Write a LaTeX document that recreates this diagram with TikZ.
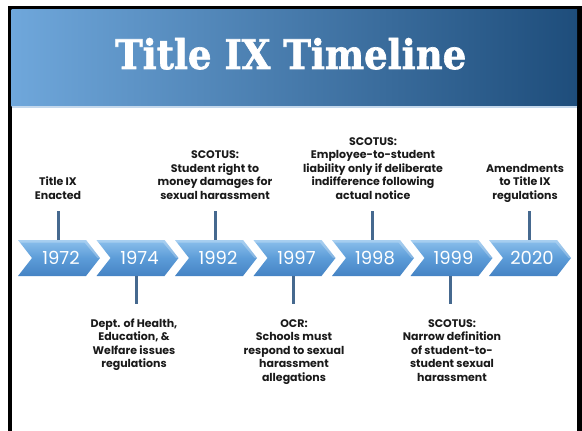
\documentclass[tikz,border=0pt]{standalone}
\usepackage{fontspec}
\setmainfont{Poppins}
\newfontfamily\titlefont{DejaVu Serif}[BoldFeatures={FakeBold=1.6}]
\definecolor{bannerL}{HTML}{6FA7DB}
\definecolor{bannerR}{HTML}{1E4D7B}
\definecolor{bannerLine}{HTML}{C4D8EC}
\definecolor{chevTop}{HTML}{8CC0EC}
\definecolor{chevMid}{HTML}{5C9CD8}
\definecolor{chevBot}{HTML}{4583C4}
\definecolor{stem}{HTML}{46698F}
\definecolor{labeltext}{HTML}{1A1A1A}
\tikzset{
  chev/.style={top color=chevTop, bottom color=chevBot, middle color=chevMid},
  chevhi/.style={fill=white, fill opacity=0.25},
  yearlbl/.style={text=white, inner sep=0, font=\fontsize{18}{20}\selectfont},
  stemline/.style={draw=stem, line width=3pt},
  evlbl/.style={align=center, inner sep=0, text=labeltext, font=\bfseries\fontsize{11}{13.5}\selectfont},
}
\begin{document}
\begin{tikzpicture}[x=1pt,y=-1pt]
\useasboundingbox (0,0) rectangle (582,431);
\fill[white] (0,0) rectangle (582,431);
% frame
\fill[black] (8,6) rectangle (11.5,431);
\fill[black] (8,6) rectangle (582,9.5);
\fill[black] (577,6) rectangle (582,431);
% banner
\shade[left color=bannerL, right color=bannerR] (11.5,9.5) rectangle (577,106);
\fill[bannerLine] (11.5,106) rectangle (577,108);
\node[anchor=base west, inner sep=0, text=white] (title) at (115,69)
  {\resizebox{351pt}{31pt}{\titlefont\bfseries Title IX Timeline}};
% chevrons
\foreach \i/\yr in {0/1972,1/1974,2/1992,3/1997,4/1998,5/1999,6/2020}{
  \pgfmathsetmacro{\xo}{18+78.5*\i}
  \path[chev] (\xo,240) -- ++(68,0) -- ++(14,18) -- ++(-14,18) -- ++(-68,0) -- ++(14,-18) -- cycle;
  \path[chevhi] (\xo,240) -- ++(68,0) -- ++(14,18) -- ++(-2.5,0) -- ++(-13,-15.5) -- ++(-64.5,0) -- cycle;
  \node[yearlbl] (y\yr) at (\xo+43,258) {\yr};
  \coordinate (t\yr) at (\xo+40,240);
  \coordinate (b\yr) at (\xo+40,276);
}
% stems above
\foreach \yr in {1972,1992,1998,2020}{
  \coordinate (s\yr) at ([yshift=29pt]t\yr);
  \draw[stemline] (t\yr) -- (s\yr);
}
% stems below
\foreach \yr in {1974,1997,1999}{
  \coordinate (s\yr) at ([yshift=-28pt]b\yr);
  \draw[stemline] (b\yr) -- (s\yr);
}
% labels above (last baseline 199)
\node[evlbl, anchor=north] (l1972) at (58,{199-13.5-9.45}) {\strut Title IX\\Enacted};
\node[evlbl, anchor=north] (l1992) at (215,{199-3*13.5-9.45}) {\strut SCOTUS:\\Student right to\\money damages for\\sexual harassment};
\node[evlbl, anchor=north] (l1998) at (373,{199-4*13.5-9.45}) {\strut SCOTUS:\\Employee-to-student\\liability only if deliberate\\indifference following\\actual notice};
\node[evlbl, anchor=north] (l2020) at (525,{199-2*13.5-9.45}) {\strut Amendments\\to Title IX\\regulations};
% labels below (first baseline 327)
\node[evlbl, anchor=north] (l1974) at (134,{327-9.45}) {\strut Dept. of Health,\\Education, \&\\Welfare issues\\regulations};
\node[evlbl, anchor=north] (l1997) at (294,{327-9.45}) {\strut OCR:\\Schools must\\respond to sexual\\harassment\\allegations};
\node[evlbl, anchor=north] (l1999) at (452,{327-9.45}) {\strut SCOTUS:\\Narrow definition\\of student-to-\\student sexual\\harassment};
\end{tikzpicture}
\end{document}
